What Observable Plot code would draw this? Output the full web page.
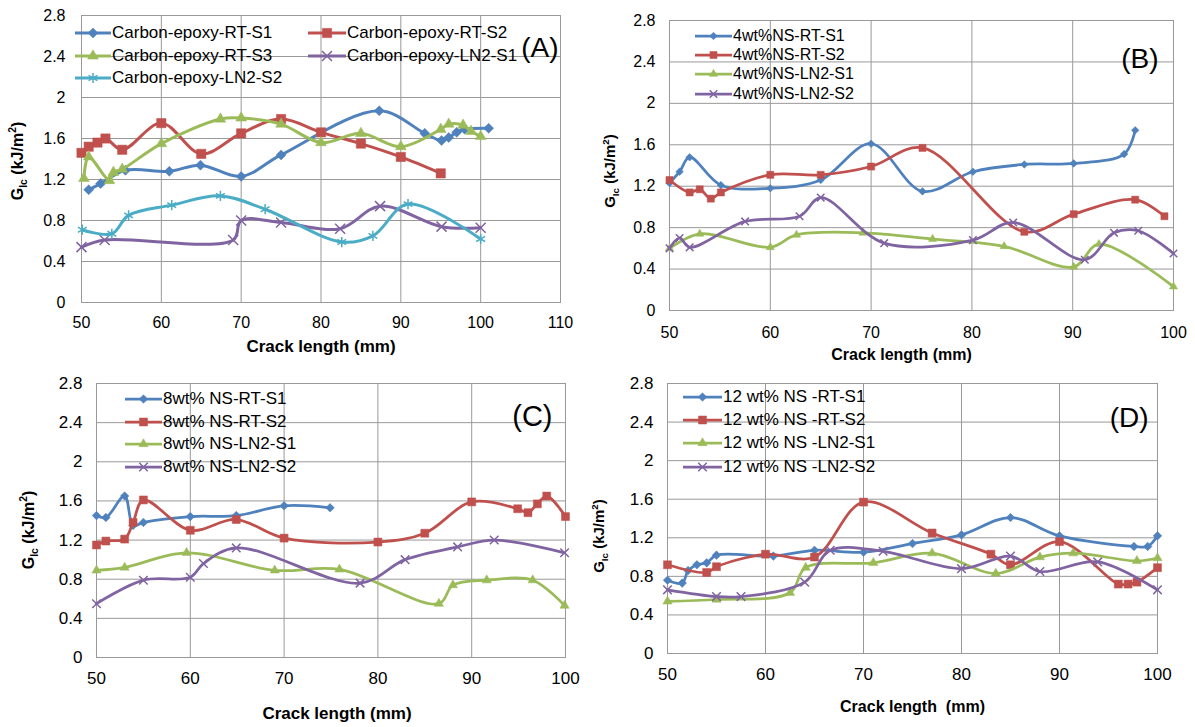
<!DOCTYPE html>
<html>
<head>
<meta charset="utf-8">
<script src="https://cdn.jsdelivr.net/npm/d3@7"></script>
<script src="https://cdn.jsdelivr.net/npm/@observablehq/plot@0.6"></script>
<style>
  html, body { margin: 0; padding: 0; background: #fff; }
  #root { position: relative; width: 1195px; height: 727px; overflow: hidden; font-family: "Liberation Sans", Arial, sans-serif; }
  .panel { position: absolute; }
  .legend { position: absolute; font-family: "Liberation Sans", Arial, sans-serif; color: #000; }
  .legend .row { display: flex; align-items: center; white-space: pre; }
  .ylab { position: absolute; font-weight: bold; white-space: nowrap; transform: translate(-50%, -50%) rotate(-90deg); color: #000; }
  .ylab sub, .ylab sup { font-size: 0.65em; }
</style>
</head>
<body>
<div id="root"></div>
<script>
// ---------------- DATA ----------------
const yTicks = [0, 0.4, 0.8, 1.2, 1.6, 2, 2.4, 2.8];
const xTicksA = [50, 60, 70, 80, 90, 100, 110];
const xTicksBCD = [50, 60, 70, 80, 90, 100];

// Panel A
const aNames = ["Carbon-epoxy-RT-S1", "Carbon-epoxy-RT-S2", "Carbon-epoxy-RT-S3", "Carbon-epoxy-LN2-S1", "Carbon-epoxy-LN2-S2"];
const aRtS1 = [[50.9,1.10],[52.4,1.16],[55.5,1.29],[61,1.28],[64.9,1.34],[70,1.23],[75,1.44],[87.3,1.87],[93,1.65],[95.1,1.58],[96,1.61],[97,1.66],[98,1.69],[101,1.70]];
const aRtS2 = [[50,1.46],[50.9,1.52],[52,1.56],[53,1.60],[55.1,1.49],[60,1.75],[65,1.45],[70,1.65],[75,1.79],[80,1.66],[85,1.55],[90,1.42],[95,1.26]];
const aRtS3 = [[50.3,1.21],[50.9,1.42],[53.5,1.19],[54,1.27],[55.1,1.30],[60,1.55],[67.4,1.79],[70,1.80],[75,1.74],[80,1.56],[85,1.65],[90,1.52],[95,1.69],[96,1.74],[97.8,1.73],[98.8,1.67],[100,1.62]];
const aLn2S1 = [[50,0.54],[52.9,0.61],[69,0.61],[70,0.80],[75,0.78],[82.4,0.72],[87.4,0.94],[95.1,0.74],[100,0.73]];
const aLn2S2 = [[50.1,0.71],[53.8,0.67],[55.9,0.85],[61.3,0.95],[67.4,1.04],[73,0.91],[82.6,0.59],[86.5,0.65],[90.9,0.96],[100,0.62]];

// Panel B
const bNames = ["4wt%NS-RT-S1", "4wt%NS-RT-S2", "4wt%NS-LN2-S1", "4wt%NS-LN2-S2"];
const bRtS1 = [[50,1.23],[51,1.34],[52,1.48],[55.1,1.21],[60,1.18],[65,1.26],[70,1.61],[75.1,1.15],[80.1,1.34],[85.2,1.41],[90.1,1.42],[95.1,1.51],[96.2,1.74]];
const bRtS2 = [[50,1.26],[52,1.14],[53,1.17],[54.1,1.08],[55.1,1.14],[60,1.31],[65,1.31],[70,1.39],[75.1,1.57],[85.2,0.76],[90.1,0.93],[96.2,1.07],[99.1,0.91]];
const bLn2S1 = [[50,0.60],[53,0.74],[60,0.61],[62.6,0.73],[69.2,0.75],[76.1,0.69],[83.2,0.62],[90.1,0.42],[92.6,0.64],[100,0.23]];
const bLn2S2 = [[50,0.60],[51,0.70],[52,0.61],[57.5,0.86],[62.9,0.91],[65,1.09],[71.3,0.65],[80.1,0.68],[84.1,0.85],[91.2,0.49],[94.1,0.75],[96.5,0.77],[100,0.55]];

// Panel C
const cNames = ["8wt% NS-RT-S1", "8wt% NS-RT-S2", "8wt% NS-LN2-S1", "8wt% NS-LN2-S2"];
const cRtS1 = [[50,1.45],[51,1.43],[53,1.65],[53.9,1.35],[55,1.38],[60,1.44],[64.9,1.45],[70,1.55],[74.9,1.53]];
const cRtS2 = [[50,1.15],[51,1.19],[53,1.21],[53.9,1.38],[55,1.61],[60,1.30],[64.9,1.41],[70,1.22],[80,1.18],[85,1.27],[90,1.59],[94.9,1.52],[96,1.48],[97,1.57],[98,1.65],[100,1.44]];
const cLn2S1 = [[50,0.89],[53,0.92],[59.6,1.07],[69,0.89],[75.9,0.90],[86.5,0.55],[88,0.74],[91.6,0.79],[96.5,0.79],[99.9,0.53]];
const cLn2S2 = [[50,0.55],[55,0.79],[60,0.82],[61.4,0.96],[64.9,1.12],[78.1,0.76],[82.9,1.00],[88.5,1.13],[92.4,1.20],[99.9,1.07]];

// Panel D
const dNames = ["12 wt% NS -RT-S1", "12 wt% NS -RT-S2", "12 wt% NS -LN2-S1", "12 wt% NS -LN2-S2"];
const dRtS1 = [[50,0.76],[51.5,0.73],[52.1,0.86],[53,0.92],[54,0.94],[55,1.02],[60.8,1.01],[65,1.07],[70,1.05],[75,1.14],[80,1.23],[85,1.41],[90,1.22],[97.6,1.11],[99,1.11],[100,1.22]];
const dRtS2 = [[50,0.92],[54,0.84],[55,0.90],[60,1.03],[65,1.00],[70,1.57],[77,1.25],[83,1.03],[85,0.92],[90,1.16],[96,0.72],[97,0.72],[97.9,0.74],[100,0.89]];
const dLn2S1 = [[50,0.54],[55,0.56],[62.5,0.63],[64.1,0.89],[71,0.94],[77,1.04],[83.5,0.83],[88,1.00],[91.4,1.04],[97.9,0.96],[100,0.99]];
const dLn2S2 = [[50,0.66],[55,0.59],[57.5,0.59],[64,0.74],[66.6,1.07],[72,1.06],[80,0.88],[85,1.01],[88,0.85],[93.9,0.95],[100,0.66]];

// ---------------- STYLE ----------------
const C = { blue: "#4F81BD", red: "#C0504D", green: "#9BBB59", purple: "#8064A2", cyan: "#4BACC6" };
const STROKE_SYMBOLS = new Set(["times", "asterisk"]);
const D3SYM = { diamond2: d3.symbolDiamond2, square: d3.symbolSquare, triangle: d3.symbolTriangle, times: d3.symbolTimes, asterisk: d3.symbolAsterisk };

function makeSeries(names, datas, styles) {
  return names.map((n, i) => ({ name: n, data: datas[i], ...styles[i] }));
}

const root = document.getElementById("root");

function panel(cfg) {
  const marks = [
    Plot.gridX(cfg.xTicks, { stroke: "#999", strokeOpacity: 1, strokeWidth: 1 }),
    Plot.gridY(yTicks, { stroke: "#999", strokeOpacity: 1, strokeWidth: 1 }),
    Plot.frame({ stroke: "#999", strokeWidth: 1 })
  ];
  for (const s of cfg.series) {
    marks.push(Plot.line(s.data, { x: d => d[0], y: d => d[1], stroke: s.color, strokeWidth: cfg.lineW, curve: "catmull-rom" }));
    const stroky = STROKE_SYMBOLS.has(s.symbol);
    marks.push(Plot.dot(s.data, {
      x: d => d[0], y: d => d[1], symbol: s.symbol, r: s.r,
      fill: stroky ? "none" : s.color,
      stroke: s.color, strokeWidth: stroky ? 1.5 : 0.5
    }));
  }
  marks.push(Plot.text([cfg.tag], { frameAnchor: "top-right", text: d => d, dx: cfg.tagDx, dy: cfg.tagDy, textAnchor: "end", fontSize: cfg.tagSize, fill: "#000" }));
  marks.push(Plot.text([cfg.xLabel], { frameAnchor: "bottom", text: d => d, dx: cfg.xlDx, dy: cfg.xlDy, fontSize: cfg.xlSize, fontWeight: "bold", fill: "#000" }));
  marks.push(Plot.axisX(cfg.xTicks, { tickSize: 0, tickPadding: cfg.xPad, tickFormat: d => String(d), label: null, fill: "#000" }));
  marks.push(Plot.axisY(yTicks, { tickSize: 0, tickPadding: cfg.yPad, tickFormat: d => String(+d.toFixed(1)), label: null, fill: "#000" }));

  const chart = Plot.plot({
    width: cfg.width, height: cfg.height,
    marginLeft: cfg.ml, marginRight: cfg.mr, marginTop: cfg.mt, marginBottom: cfg.mb,
    x: { domain: cfg.xDomain },
    y: { domain: [0, 2.8] },
    style: { fontFamily: "'Liberation Sans', Arial, sans-serif", fontSize: cfg.fontSize + "px", background: "transparent", overflow: "visible" },
    marks
  });
  const div = document.createElement("div");
  div.className = "panel";
  div.style.left = cfg.left + "px";
  div.style.top = cfg.top + "px";
  div.appendChild(chart);
  root.appendChild(div);

  // y label
  const yl = document.createElement("div");
  yl.className = "ylab";
  yl.style.left = cfg.ylX + "px";
  yl.style.top = cfg.ylY + "px";
  yl.style.fontSize = cfg.ylSize + "px";
  yl.innerHTML = "G<sub>Ic</sub> (kJ/m<sup>2</sup>)";
  root.appendChild(yl);

  // legends
  for (const lg of cfg.legends) {
    const box = document.createElement("div");
    box.className = "legend";
    box.style.left = lg.left + "px";
    box.style.top = lg.top + "px";
    box.style.fontSize = lg.fontSize + "px";
    for (const idx of lg.items) {
      const s = cfg.series[idx];
      const row = document.createElement("div");
      row.className = "row";
      row.style.height = lg.rowH + "px";
      const w = lg.sampleW, h = 16;
      const stroky = STROKE_SYMBOLS.has(s.symbol);
      const path = d3.symbol(D3SYM[s.symbol], Math.PI * s.r * s.r)();
      row.innerHTML =
        `<svg width="${w}" height="${h}" style="flex:none;overflow:visible">` +
        `<line x1="0" x2="${w}" y1="${h/2}" y2="${h/2}" stroke="${s.color}" stroke-width="${cfg.lineW}"/>` +
        `<path d="${path}" transform="translate(${w/2},${h/2})" fill="${stroky ? "none" : s.color}" stroke="${s.color}" stroke-width="${stroky ? 1.5 : 0.5}"/>` +
        `</svg><span style="margin-left:1px">${s.name}</span>`;
      box.appendChild(row);
    }
    root.appendChild(box);
  }
}

function styles(k) {
  return [
    { color: C.blue, symbol: "diamond2", r: 4.3 * k },
    { color: C.red, symbol: "square", r: 5.0 * k },
    { color: C.green, symbol: "triangle", r: 3.8 * k },
    { color: C.purple, symbol: "times", r: 4.4 * k },
    { color: C.cyan, symbol: "asterisk", r: 4.6 * k }
  ];
}

// Panel A
panel({
  series: makeSeries(aNames, [aRtS1, aRtS2, aRtS3, aLn2S1, aLn2S2], styles(1.05)),
  xDomain: [50, 110], xTicks: xTicksA,
  left: 0, top: 0, width: 597, height: 360, ml: 81, mr: 37, mt: 15, mb: 58,
  xPad: 14, yPad: 16, fontSize: 16, lineW: 3,
  tag: "(A)", tagDx: -2, tagDy: 22, tagSize: 28,
  xLabel: "Crack length (mm)", xlDx: 0, xlDy: 49, xlSize: 17,
  ylX: 18, ylY: 161, ylSize: 16,
  legends: [
    { left: 75, top: 22, rowH: 22.5, sampleW: 36, fontSize: 17, items: [0, 2, 4] },
    { left: 308, top: 22, rowH: 22.5, sampleW: 38, fontSize: 17, items: [1, 3] }
  ]
});

// Panel B
panel({
  series: makeSeries(bNames, [bRtS1, bRtS2, bLn2S1, bLn2S2], styles(0.8)),
  xDomain: [50, 100], xTicks: xTicksBCD,
  left: 597, top: 0, width: 598, height: 360, ml: 72, mr: 22, mt: 20, mb: 50,
  xPad: 16, yPad: 14, fontSize: 16, lineW: 2.75,
  tag: "(B)", tagDx: -15, tagDy: 28, tagSize: 28,
  xLabel: "Crack length (mm)", xlDx: -20, xlDy: 49, xlSize: 16,
  ylX: 610, ylY: 171, ylSize: 15,
  legends: [
    { left: 695, top: 26, rowH: 19.3, sampleW: 37, fontSize: 16, items: [0, 1, 2, 3] }
  ]
});

// Panel C
panel({
  series: makeSeries(cNames, [cRtS1, cRtS2, cLn2S1, cLn2S2], styles(0.9)),
  xDomain: [50, 100], xTicks: xTicksBCD,
  left: 0, top: 360, width: 597, height: 367, ml: 96, mr: 32, mt: 23, mb: 70,
  xPad: 14, yPad: 14, fontSize: 17, lineW: 2.75,
  tag: "(C)", tagDx: -13, tagDy: 22, tagSize: 29,
  xLabel: "Crack length (mm)", xlDx: 6, xlDy: 61, xlSize: 17,
  ylX: 29, ylY: 530, ylSize: 16,
  legends: [
    { left: 125, top: 388, rowH: 22.6, sampleW: 37, fontSize: 17, items: [0, 1, 2, 3] }
  ]
});

// Panel D
panel({
  series: makeSeries(dNames, [dRtS1, dRtS2, dLn2S1, dLn2S2], styles(0.9)),
  xDomain: [50, 100], xTicks: xTicksBCD,
  left: 597, top: 360, width: 598, height: 367, ml: 70, mr: 38, mt: 23, mb: 74,
  xPad: 14, yPad: 14, fontSize: 17, lineW: 2.75,
  tag: "(D)", tagDx: -9, tagDy: 24, tagSize: 28,
  xLabel: "Crack length\u00a0 (mm)", xlDx: 0, xlDy: 58, xlSize: 16,
  ylX: 599, ylY: 536, ylSize: 15,
  legends: [
    { left: 683, top: 385, rowH: 23.3, sampleW: 39, fontSize: 17, items: [0, 1, 2, 3] }
  ]
});
</script>
</body>
</html>
